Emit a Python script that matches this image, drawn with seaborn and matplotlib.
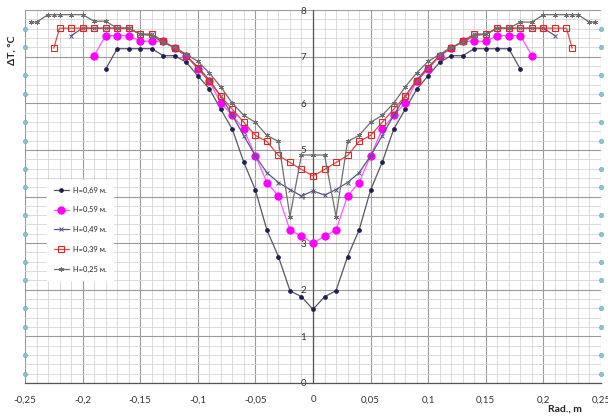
import matplotlib
matplotlib.use("Agg")
import matplotlib.pyplot as plt
from matplotlib.ticker import MultipleLocator, FuncFormatter
import numpy as np
import pandas as pd
import seaborn as sns

# ---------------- data ----------------
x69 = [-0.18, -0.17, -0.16, -0.15, -0.14, -0.13, -0.12, -0.11, -0.10, -0.09, -0.08, -0.07, -0.06, -0.05,
       -0.04, -0.03, -0.02, -0.01, 0.0, 0.01, 0.02, 0.03, 0.04, 0.05, 0.06, 0.07, 0.08, 0.09, 0.10,
       0.11, 0.12, 0.13, 0.14, 0.15, 0.16, 0.17, 0.18]
y69 = [6.73, 7.17, 7.17, 7.17, 7.17, 7.02, 7.02, 6.88, 6.59, 6.31, 5.87, 5.44, 4.73, 4.14,
       3.28, 2.71, 1.98, 1.85, 1.58, 1.85, 1.98, 2.71, 3.28, 4.14, 4.73, 5.44, 5.87, 6.30, 6.59,
       6.88, 7.02, 7.02, 7.17, 7.17, 7.17, 7.17, 6.73]

x59 = [-0.19, -0.18, -0.17, -0.16, -0.15, -0.14, -0.13, -0.12, -0.11, -0.10, -0.09, -0.08, -0.07, -0.06,
       -0.05, -0.04, -0.03, -0.02, -0.01, 0.0, 0.01, 0.02, 0.03, 0.04, 0.05, 0.06, 0.07, 0.08, 0.09,
       0.10, 0.11, 0.12, 0.13, 0.14, 0.15, 0.16, 0.17, 0.18, 0.19]
y59 = [7.02, 7.45, 7.45, 7.45, 7.33, 7.33, 7.33, 7.18, 7.02, 6.74, 6.47, 6.00, 5.74, 5.44,
       4.87, 4.30, 4.01, 3.28, 3.15, 3.00, 3.15, 3.28, 4.01, 4.30, 4.87, 5.44, 5.74, 6.00, 6.47,
       6.74, 7.02, 7.18, 7.33, 7.33, 7.33, 7.45, 7.45, 7.45, 7.02]

x49 = [-0.21, -0.20, -0.19, -0.18, -0.17, -0.16, -0.15, -0.14, -0.13, -0.12, -0.11, -0.10, -0.09, -0.08,
       -0.07, -0.06, -0.05, -0.04, -0.03, -0.02, -0.01, 0.0, 0.01, 0.02, 0.03, 0.04, 0.05, 0.06, 0.07,
       0.08, 0.09, 0.10, 0.11, 0.12, 0.13, 0.14, 0.15, 0.16, 0.17, 0.18, 0.19, 0.20, 0.21]
y49 = [7.45, 7.61, 7.61, 7.61, 7.61, 7.61, 7.48, 7.48, 7.33, 7.18, 7.02, 6.78, 6.50, 6.15,
       5.74, 5.30, 4.87, 4.51, 4.30, 4.15, 4.01, 4.12, 4.03, 4.15, 4.30, 4.51, 4.87, 5.30, 5.74,
       6.15, 6.50, 6.78, 7.02, 7.18, 7.33, 7.48, 7.48, 7.61, 7.61, 7.61, 7.61, 7.61, 7.45]

x39 = [-0.225, -0.22, -0.21, -0.20, -0.19, -0.18, -0.17, -0.16, -0.15, -0.14, -0.13, -0.12, -0.11, -0.10,
       -0.09, -0.08, -0.07, -0.06, -0.05, -0.04, -0.03, -0.02, -0.01, 0.0, 0.01, 0.02, 0.03, 0.04,
       0.05, 0.06, 0.07, 0.08, 0.09, 0.10, 0.11, 0.12, 0.13, 0.14, 0.15, 0.16, 0.17, 0.18, 0.19,
       0.20, 0.21, 0.22, 0.225]
y39 = [7.18, 7.61, 7.61, 7.61, 7.61, 7.61, 7.61, 7.61, 7.48, 7.48, 7.33, 7.18, 7.02, 6.75,
       6.47, 6.15, 5.87, 5.59, 5.31, 5.18, 4.88, 4.73, 4.58, 4.44, 4.58, 4.73, 4.88, 5.18,
       5.31, 5.59, 5.87, 6.15, 6.47, 6.75, 7.02, 7.18, 7.33, 7.48, 7.48, 7.61, 7.61, 7.61, 7.61,
       7.61, 7.61, 7.61, 7.18]

x25 = [-0.245, -0.24, -0.23, -0.225, -0.22, -0.21, -0.20, -0.19, -0.18, -0.17, -0.16, -0.15, -0.14,
       -0.13, -0.12, -0.11, -0.10, -0.09, -0.08, -0.07, -0.06, -0.05, -0.04, -0.03, -0.02, -0.01,
       0.0, 0.01, 0.02, 0.03, 0.04, 0.05, 0.06, 0.07, 0.08, 0.09, 0.10, 0.11, 0.12, 0.13, 0.14,
       0.15, 0.16, 0.17, 0.18, 0.19, 0.20, 0.21, 0.22, 0.225, 0.23, 0.24, 0.245]
y25 = [7.74, 7.74, 7.90, 7.90, 7.90, 7.90, 7.90, 7.76, 7.76, 7.61, 7.61, 7.48, 7.45,
       7.30, 7.20, 7.05, 6.90, 6.65, 6.35, 6.00, 5.74, 5.59, 5.31, 5.18, 3.57, 4.89,
       4.89, 4.89, 3.57, 5.18, 5.31, 5.59, 5.74, 6.00, 6.35, 6.65, 6.90, 7.05, 7.20, 7.30, 7.45,
       7.48, 7.61, 7.61, 7.74, 7.74, 7.90, 7.90, 7.90, 7.90, 7.90, 7.74, 7.74]

edge_x = [-0.25, 0.25]
edge_y = [7.6, 7.2, 6.6, 6.2, 5.6, 5.2, 4.6, 4.2, 3.6, 3.2, 2.6, 2.2, 1.6, 1.2, 0.6, 0.2]

labels = ["H=0,69 м.", "H=0,59 м.", "H=0,49 м.", "H=0,39 м.", "H=0,25 м."]
x_ticks = [-0.25, -0.2, -0.15, -0.1, -0.05, 0.0, 0.05, 0.1, 0.15, 0.2, 0.25]

# ---------------- style ----------------
sns.set_theme(style="white")
plt.rcParams["font.family"] = ["Lato", "DejaVu Sans"]

fig = plt.figure(figsize=(6.08, 4.16), dpi=100)
L, R, T, B = 25 / 608, 601 / 608, 10 / 416, 383 / 416
ax = fig.add_axes([L, 1 - B, R - L, B - T])

# grid
ax.set_xlim(-0.25, 0.25)
ax.set_ylim(0, 8)
ax.xaxis.set_major_locator(MultipleLocator(0.05))
ax.xaxis.set_minor_locator(MultipleLocator(0.01))
ax.yaxis.set_major_locator(MultipleLocator(1))
ax.yaxis.set_minor_locator(MultipleLocator(0.2))
ax.grid(which="minor", color="#d4d4d4", lw=0.6)
ax.grid(which="major", color="#9a9a9a", lw=0.8)
ax.set_axisbelow(True)

# edge markers
edf = pd.DataFrame({"x": np.repeat(edge_x, len(edge_y)), "y": np.tile(edge_y, len(edge_x))})
sns.scatterplot(data=edf, x="x", y="y", ax=ax, s=9, color="#8ec3d6", edgecolor="#6fa9c0",
                linewidth=0.5, clip_on=False, zorder=5, legend=False)

series = [
    (x69, y69, labels[0], dict(color="#555566", marker="o", markersize=2.6, markerfacecolor="#1b1f4f",
                               markeredgecolor="#1b1f4f", lw=0.9)),
    (x59, y59, labels[1], dict(color="#ff55ff", marker="o", markersize=5.2, markerfacecolor="#ff00ff",
                               markeredgecolor="#ff00ff", lw=0.9)),
    (x49, y49, labels[2], dict(color="#55597e", marker="x", markersize=3.5, markeredgecolor="#55597e",
                               markeredgewidth=0.7, lw=0.9)),
    (x39, y39, labels[3], dict(color="#e04848", marker="s", markersize=4.2, markerfacecolor="none",
                               markeredgecolor="#d42a2a", markeredgewidth=0.8, lw=0.9)),
    (x25, y25, labels[4], dict(color="#6e6e6e", marker=(6, 2, 0), markersize=3.5, markeredgecolor="#6e6e6e",
                               markeredgewidth=0.6, lw=0.9)),
]
for xs, ys, lab, kw in series:
    df = pd.DataFrame({"x": xs, "y": ys})
    sns.lineplot(data=df, x="x", y="y", ax=ax, estimator=None, sort=False, label=lab,
                 zorder=4, **kw)

# spines: axes through zero
for s in ["top", "right"]:
    ax.spines[s].set_visible(False)
ax.spines["left"].set_position(("data", 0))
ax.spines["left"].set_color("#555555")
ax.spines["left"].set_linewidth(0.9)
ax.spines["bottom"].set_color("#555555")
ax.spines["bottom"].set_linewidth(0.9)

fmt = FuncFormatter(lambda v, p: ("0" if abs(v) < 1e-9 else ("%g" % round(v, 2)).replace(".", ",")))
ax.xaxis.set_major_formatter(fmt)
ax.set_xticks(x_ticks)
ax.tick_params(axis="x", which="major", direction="out", length=4, width=0.8, color="#555555",
               labelsize=7, pad=5, labelcolor="#333333")
ax.tick_params(axis="x", which="minor", direction="out", length=2, width=0.6, color="#777777")
ax.tick_params(axis="y", which="major", direction="out", length=3, width=0.8, color="#555555",
               labelsize=7, pad=2, labelcolor="#333333")
ax.tick_params(axis="y", which="minor", length=0)
ax.set_xlabel("")
ax.set_ylabel("")

leg = ax.legend(loc="upper left", bbox_to_anchor=(0.032, 0.555), fontsize=5.4, frameon=True,
                facecolor="white", edgecolor="white", framealpha=1, labelspacing=1.7,
                handlelength=2.0, handletextpad=0.5, borderpad=0.9, fancybox=False)
leg.set_zorder(6)

fig.text(12 / 608, 1 - 50 / 416, "ΔT, °C", rotation=90, ha="center", va="center",
         fontsize=7.5, fontweight="bold", color="#222222")
fig.text(565 / 608, 1 - 409 / 416, "Rad., m", ha="center", va="center",
         fontsize=7.5, fontweight="bold", color="#222222")

fig.savefig("out.png", dpi=100, facecolor="white")
